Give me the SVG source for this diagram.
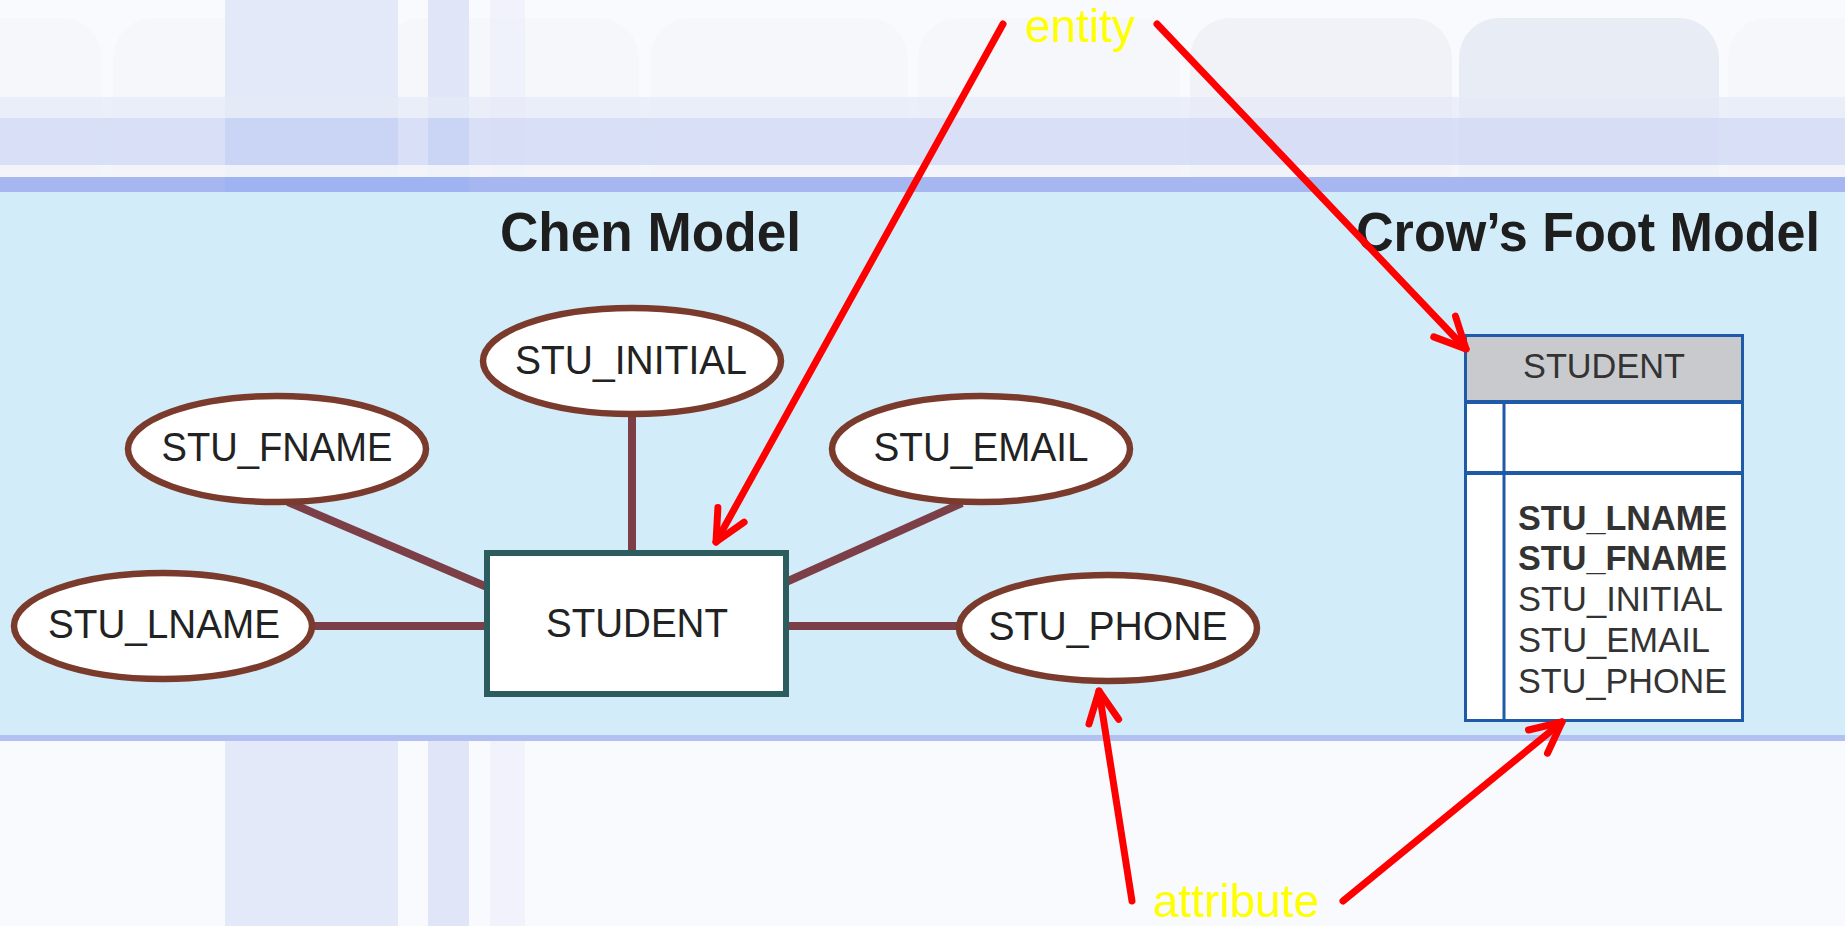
<svg xmlns="http://www.w3.org/2000/svg" width="1845" height="926" viewBox="0 0 1845 926">
  <defs>
    <style>
      .attr-ellipse { fill: #ffffff; stroke: #7a3a2c; stroke-width: 6.5; }
      .chen-label { font-family: "Liberation Sans", Arial, sans-serif; font-size: 40px; fill: #222222; text-anchor: middle; }
      .title { font-family: "Liberation Sans", Arial, sans-serif; font-size: 55px; font-weight: bold; fill: #1e1e1e; }
      .link { stroke: #7d3f47; stroke-width: 8; fill: none; }
      .callout { stroke: #ff0000; stroke-width: 7; fill: none; stroke-linecap: round; stroke-linejoin: round; }
      .note { font-family: "Liberation Sans", Arial, sans-serif; font-size: 46px; fill: #ffff00; }
      .cf-text { font-family: "Liberation Sans", Arial, sans-serif; font-size: 35px; fill: #333333; }
      .tile { fill: #f5f7fb; }
    </style>
    <marker id="open-head" markerUnits="userSpaceOnUse" markerWidth="80" markerHeight="80" refX="0" refY="0" viewBox="-40 -40 80 80" orient="auto" overflow="visible">
      <path d="M -31 -15 L 0 0 L -31 15" fill="none" stroke="#ff0000" stroke-width="7" stroke-linecap="round" stroke-linejoin="round"/>
    </marker>
  </defs>

  <!-- page background -->
  <g id="background">
    <rect x="0" y="0" width="1845" height="926" fill="#f9fafd"/>
    <!-- rounded tiles of the top band -->
    <rect class="tile" x="-160" y="18" width="262" height="400" rx="40"/>
    <rect class="tile" x="113" y="18" width="258" height="400" rx="40"/>
    <rect class="tile" x="381" y="18" width="258" height="400" rx="40"/>
    <rect class="tile" x="650" y="18" width="258" height="400" rx="40"/>
    <rect class="tile" x="918" y="18" width="262" height="400" rx="40"/>
    <rect x="1190" y="18" width="262" height="400" rx="40" fill="#f0f2f8"/>
    <rect x="1459" y="18" width="260" height="400" rx="40" fill="#e8ecf4"/>
    <rect class="tile" x="1728" y="18" width="260" height="400" rx="40"/>
    <!-- vertical stripes -->
    <rect x="225" y="0" width="173" height="926" fill="#e3e9f9"/>
    <rect x="428" y="0" width="41" height="926" fill="#e0e6f8"/>
    <rect x="490" y="0" width="35" height="926" fill="#eff1fb" opacity="0.9"/>
    <!-- horizontal bands -->
    <rect x="0" y="97" width="1845" height="21" fill="#e6eaf7" opacity="0.7"/>
    <rect x="0" y="118" width="1845" height="47" fill="#d2dbf4" opacity="0.85"/>
    <rect x="0" y="165" width="1845" height="12" fill="#f1f3f9" opacity="0.85"/>
    <rect x="0" y="177" width="1845" height="15" fill="#a6b6f0"/>
    <rect x="225" y="118" width="173" height="47" fill="#c3cff5" opacity="0.6"/>
    <rect x="428" y="118" width="41" height="47" fill="#c3cff5" opacity="0.6"/>
    <rect x="225" y="177" width="244" height="15" fill="#9cb0f2" opacity="0.7"/>
    <!-- diagram panel -->
    <rect x="0" y="192" width="1845" height="543" fill="#d3ecfa"/>
    <rect x="0" y="735" width="1845" height="6" fill="#b3c0f2"/>
  </g>

  <!-- titles -->
  <text id="chen-title" class="title" x="500" y="251" textLength="301" lengthAdjust="spacingAndGlyphs">Chen Model</text>
  <text id="crowsfoot-title" class="title" x="1356" y="251" textLength="464" lengthAdjust="spacingAndGlyphs">Crow’s Foot Model</text>

  <!-- Chen model connectors -->
  <g id="connectors">
    <line class="link" x1="632" y1="410" x2="632" y2="553"/>
    <line class="link" x1="288" y1="502" x2="487" y2="587"/>
    <line class="link" x1="962" y1="503" x2="786" y2="582"/>
    <line class="link" x1="310" y1="626" x2="487" y2="626"/>
    <line class="link" x1="786" y1="626" x2="960" y2="626"/>
  </g>

  <!-- Chen model entity -->
  <g id="entity-student">
    <rect x="487" y="553" width="299" height="141" fill="#ffffff" stroke="#2d5c5e" stroke-width="6"/>
    <text class="chen-label" x="637" y="637" textLength="182" lengthAdjust="spacingAndGlyphs">STUDENT</text>
  </g>

  <!-- Chen model attributes -->
  <g id="attr-initial">
    <ellipse class="attr-ellipse" cx="632" cy="361" rx="149" ry="53"/>
    <text class="chen-label" x="631" y="374" textLength="232" lengthAdjust="spacingAndGlyphs">STU_INITIAL</text>
  </g>
  <g id="attr-fname">
    <ellipse class="attr-ellipse" cx="277" cy="449" rx="149" ry="53"/>
    <text class="chen-label" x="277" y="461" textLength="231" lengthAdjust="spacingAndGlyphs">STU_FNAME</text>
  </g>
  <g id="attr-email">
    <ellipse class="attr-ellipse" cx="981" cy="449" rx="149" ry="53"/>
    <text class="chen-label" x="981" y="461" textLength="215" lengthAdjust="spacingAndGlyphs">STU_EMAIL</text>
  </g>
  <g id="attr-lname">
    <ellipse class="attr-ellipse" cx="163" cy="626" rx="149" ry="53"/>
    <text class="chen-label" x="164" y="638" textLength="232" lengthAdjust="spacingAndGlyphs">STU_LNAME</text>
  </g>
  <g id="attr-phone">
    <ellipse class="attr-ellipse" cx="1108" cy="628" rx="149" ry="53"/>
    <text class="chen-label" x="1108" y="640" textLength="239" lengthAdjust="spacingAndGlyphs">STU_PHONE</text>
  </g>

  <!-- Crow's Foot entity box -->
  <g id="cf-student">
    <rect x="1465.5" y="335.5" width="277" height="385" fill="#ffffff"/>
    <rect x="1465.5" y="335.5" width="277" height="65.5" fill="#c9cacd"/>
    <line x1="1465" y1="402" x2="1743" y2="402" stroke="#1f5aa8" stroke-width="4"/>
    <line x1="1465" y1="473" x2="1743" y2="473" stroke="#1f5aa8" stroke-width="4"/>
    <line x1="1504" y1="402" x2="1504" y2="721" stroke="#1f5aa8" stroke-width="3"/>
    <rect x="1465.5" y="335.5" width="277" height="385" fill="none" stroke="#1f5aa8" stroke-width="3"/>
    <text class="cf-text" x="1604" y="378" text-anchor="middle" fill="#444444" textLength="162" lengthAdjust="spacingAndGlyphs">STUDENT</text>
    <text class="cf-text" x="1518" y="530" font-weight="bold" textLength="209" lengthAdjust="spacingAndGlyphs">STU_LNAME</text>
    <text class="cf-text" x="1518" y="570" font-weight="bold" textLength="209" lengthAdjust="spacingAndGlyphs">STU_FNAME</text>
    <text class="cf-text" x="1518" y="611" textLength="205" lengthAdjust="spacingAndGlyphs">STU_INITIAL</text>
    <text class="cf-text" x="1518" y="652" textLength="192" lengthAdjust="spacingAndGlyphs">STU_EMAIL</text>
    <text class="cf-text" x="1518" y="693" textLength="209" lengthAdjust="spacingAndGlyphs">STU_PHONE</text>
  </g>

  <!-- callout labels and arrows -->
  <g id="callouts">
    <path class="callout" d="M 1003 24 L 716 542" marker-end="url(#open-head)"/>
    <path class="callout" d="M 1157 24 L 1466 349" marker-end="url(#open-head)"/>
    <path class="callout" d="M 1132 901 L 1099 691" marker-end="url(#open-head)"/>
    <path class="callout" d="M 1343 901 L 1562 722" marker-end="url(#open-head)"/>
  </g>
  <text id="label-entity" class="note" x="1025" y="42">entity</text>
  <text id="label-attribute" class="note" x="1153" y="917">attribute</text>
</svg>
